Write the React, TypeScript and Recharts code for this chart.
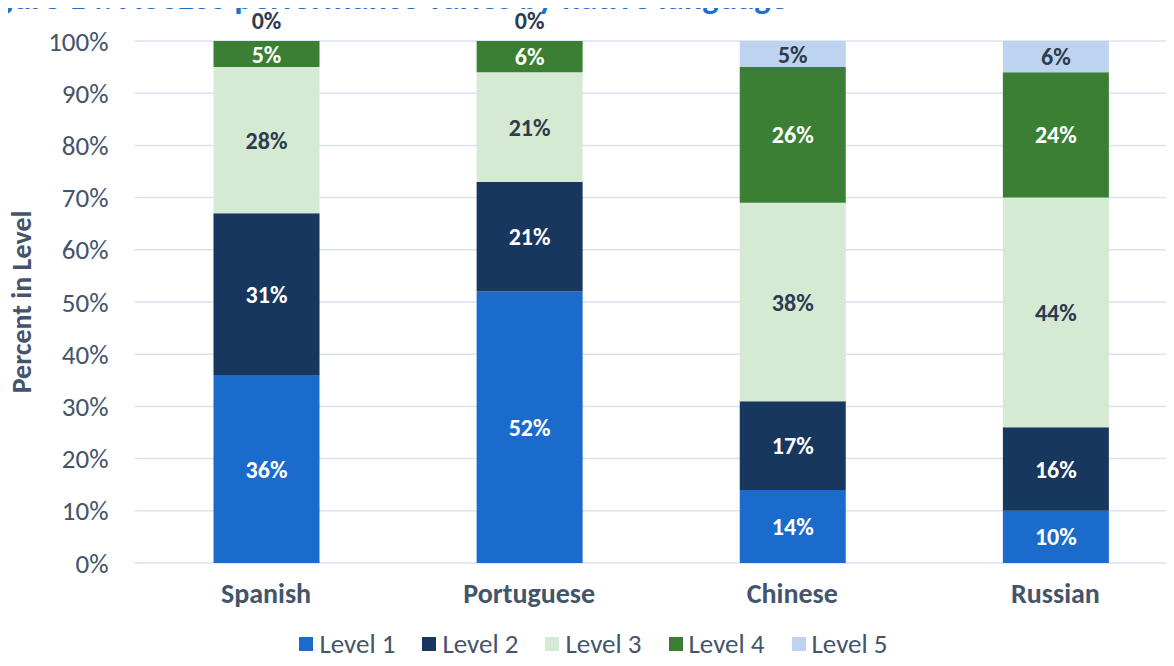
import React from 'react';
import { BarChart, Bar, XAxis, YAxis, CartesianGrid, Legend, LabelList } from 'recharts';

const categories = ['Spanish', 'Portuguese', 'Chinese', 'Russian'];
const level1 = [36, 52, 14, 10];
const level2 = [31, 21, 17, 16];
const level3 = [28, 21, 38, 44];
const level4 = [5, 6, 26, 24];
const level5 = [0, 0, 5, 6];
const yTicks = [0, 10, 20, 30, 40, 50, 60, 70, 80, 90, 100];

const FONT = 'Carlito, Calibri, Lato, sans-serif';
const DARK = '#2E3B4E';
const AXIS = '#44546A';

const series = [
  { key: 'Level 1', values: level1, color: '#1A6BCC', text: '#FFFFFF' },
  { key: 'Level 2', values: level2, color: '#17375E', text: '#FFFFFF' },
  { key: 'Level 3', values: level3, color: '#D4EAD3', text: DARK },
  { key: 'Level 4', values: level4, color: '#3A7F33', text: '#FFFFFF' },
  { key: 'Level 5', values: level5, color: '#BDD3EF', text: DARK },
];

const data = categories.map((name, i) => {
  const row: Record<string, string | number> = { name };
  series.forEach(s => { row[s.key] = s.values[i]; });
  return row;
});

const labelText = (x: number, y: number, fill: string, txt: string, key?: string) => (
  <text
    key={key}
    x={x}
    y={y}
    fill={fill}
    textAnchor="middle"
    dominantBaseline="central"
    fontFamily={FONT}
    fontWeight={700}
    fontSize={24}
  >
    {txt}
  </text>
);

// centred label in each segment; an empty top segment (Level 5 = 0) gets its "0%" above the bar
const segLabel = (color: string, isTopVisible: boolean) => (props: any) => {
  const { x, y, width, height, value, index } = props;
  if (Number(value) === 0) return null;
  const cx = Number(x) + Number(width) / 2;
  const parts = [labelText(cx, Number(y) + Number(height) / 2, color, `${value}%`, 'v')];
  if (isTopVisible && level5[index] === 0) {
    parts.push(labelText(cx, Number(y) - 21, DARK, `${level5[index]}%`, 'z'));
  }
  return <g>{parts}</g>;
};

const yLabel = (props: any) => {
  const vb = props.viewBox || {};
  const cx = 21;
  const cy = vb.y + vb.height / 2;
  return (
    <text
      x={cx}
      y={cy}
      transform={`rotate(-90, ${cx}, ${cy})`}
      textAnchor="middle"
      dominantBaseline="central"
      fill={AXIS}
      fontFamily={FONT}
      fontWeight={700}
      fontSize={28}
    >
      Percent in Level
    </text>
  );
};

const legendContent = (props: any) => {
  const items = props.payload || [];
  return (
    <div
      style={{
        display: 'flex', justifyContent: 'center', alignItems: 'center',
        height: 40, boxSizing: 'border-box', paddingBottom: 4, gap: 27,
      }}
    >
      {items.map((e: any) => (
        <div key={e.value} style={{ display: 'flex', alignItems: 'center' }}>
          <span style={{ display: 'inline-block', width: 14, height: 14, background: e.color, marginRight: 6 }} />
          <span style={{ color: AXIS, fontFamily: FONT, fontSize: 27, lineHeight: '30px' }}>{e.value}</span>
        </div>
      ))}
    </div>
  );
};

export default function App() {
  return (
    <div style={{ position: 'relative', width: 1174, height: 666, margin: -8, overflow: 'hidden', background: '#fff' }}>
      <div
        style={{
          position: 'absolute', left: -28, top: -24, whiteSpace: 'nowrap',
          fontFamily: FONT, fontWeight: 700, fontSize: 34.5, color: '#1F6FCC', zIndex: 2,
        }}
      >
        Figure 14. ACCESS performance varies by native language
      </div>
      <BarChart
        width={1190}
        height={666}
        data={data}
        margin={{ top: 41, right: 3, bottom: 0, left: 0 }}
        barSize={106}
      >
        <CartesianGrid vertical={false} stroke="#D9E2F0" strokeWidth={1.5} />
        <XAxis
          dataKey="name"
          axisLine={false}
          tickLine={false}
          tickSize={0}
          tickMargin={20}
          height={63}
          tick={{ fill: AXIS, fontFamily: FONT, fontWeight: 700, fontSize: 28 }}
        />
        <YAxis
          width={134.5}
          domain={[0, 100]}
          ticks={yTicks}
          tickFormatter={(v: number) => `${v}%`}
          axisLine={false}
          tickLine={false}
          tickSize={0}
          tickMargin={26}
          tick={{ fill: AXIS, fontFamily: FONT, fontSize: 27 }}
          label={yLabel}
        />
        <Legend verticalAlign="bottom" align="center" height={40} content={legendContent} />
        {series.map(s => (
          <Bar key={s.key} dataKey={s.key} name={s.key} stackId="a" fill={s.color} isAnimationActive={false}>
            <LabelList dataKey={s.key} content={segLabel(s.text, s.key === 'Level 4')} />
          </Bar>
        ))}
      </BarChart>
    </div>
  );
}
